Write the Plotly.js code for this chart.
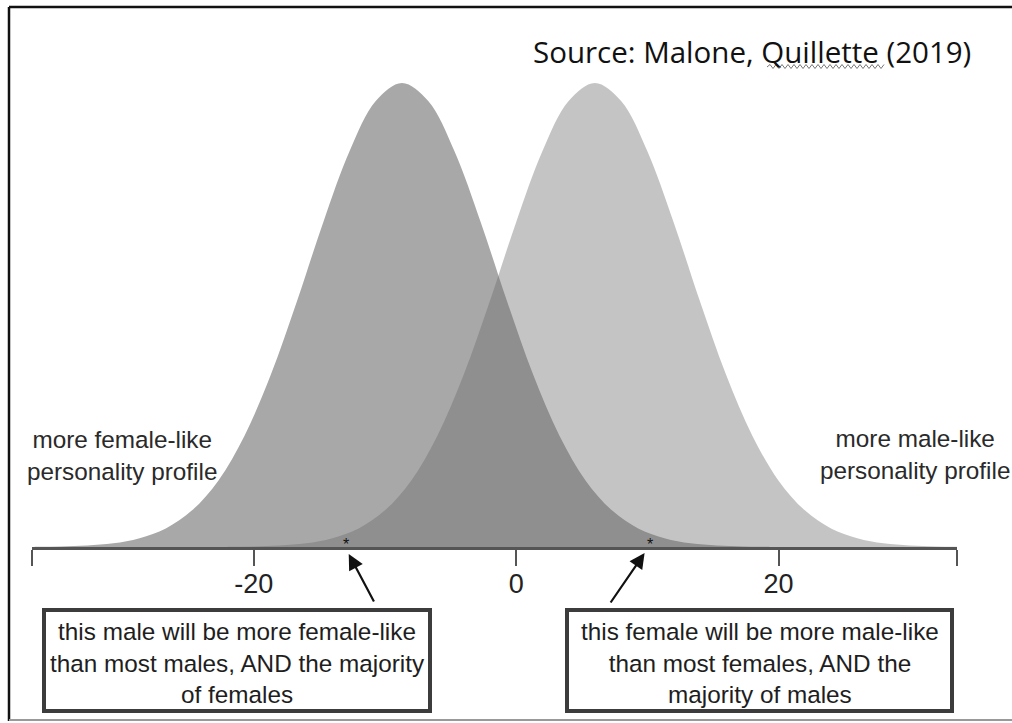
<!DOCTYPE html>
<html>
<head>
<meta charset="utf-8">
<script src="https://cdn.plot.ly/plotly-3.0.1.min.js"></script>
<style>html,body{margin:0;padding:0;background:#fff;}#chart{width:1012px;height:723px;}</style>
</head>
<body>
<div id="chart"></div>
<script>
// ---- data ----
const femaleX = [-36.7,-34.7,-32.7,-30.7,-28.7,-26.7,-24.7,-22.7,-20.7,-18.7,-16.7,-14.7,-12.7,-10.7,-8.7,-6.7,-4.7,-2.7,-0.7,1.3,3.3,5.3,7.3,9.3,11.3,13.3,15.3,17.3,19.3];
const femaleY = [0.04,0.12,0.33,0.8,1.9,4.0,7.9,14.3,24.0,37.1,53.0,70.0,85.3,96.1,100,96.1,85.3,70.0,53.0,37.1,24.0,14.3,7.9,4.0,1.9,0.8,0.33,0.12,0.04];
const maleX = [-22,-20,-18,-16,-14,-12,-10,-8,-6,-4,-2,0,2,4,6,8,10,12,14,16,18,20,22,24,26,28,30,32,34];
const maleY = [0.04,0.12,0.33,0.8,1.9,4.0,7.9,14.3,24.0,37.1,53.0,70.0,85.3,96.1,100,96.1,85.3,70.0,53.0,37.1,24.0,14.3,7.9,4.0,1.9,0.8,0.33,0.12,0.04];
const axisRange = [-36.9, 33.6];
const tickValues = [-36.9, -20, 0, 20, 33.6];
const tickLabels = ['', '-20', '0', '20', ''];
const markedX = [-13.0, 10.2];          // the two marked individuals (*)
const arrowTipX = [-12.76, 9.79];
const sourceText = 'Source: Malone, Quillette (2019)';
const leftLabel = 'more female-like<br>personality profile';
const rightLabel = 'more male-like<br>personality profile';
const boxTexts = [
  'this male will be more female-like<br>than most males, AND the majority<br>of females',
  'this female will be more male-like<br>than most females, AND the<br>majority of males'
];

// ---- layout helpers (pixel -> paper) ----
const W = 1012, H = 723;
const px = v => v / W;
const py = v => (H - v) / H;

const traces = [
  {x: femaleX, y: femaleY, type: 'scatter', mode: 'lines', line: {width: 0, shape: 'spline', color: 'rgba(0,0,0,0)'},
   fill: 'tozeroy', fillcolor: 'rgb(168,168,168)', hoverinfo: 'skip', showlegend: false},
  {x: maleX, y: maleY, type: 'scatter', mode: 'lines', line: {width: 0, shape: 'spline', color: 'rgba(0,0,0,0)'},
   fill: 'tozeroy', fillcolor: 'rgba(104,104,104,0.39)', hoverinfo: 'skip', showlegend: false}
];

// wavy underline under "Quillette"
let wave = 'M ' + px(767) + ',' + py(67);
for (let xx = 767, i = 0; xx < 883; xx += 3, i++) {
  wave += ' L ' + px(xx + 3) + ',' + py(i % 2 === 0 ? 64.5 : 68.5);
}

const shapes = [
  // outer frame
  {type: 'line', xref: 'paper', yref: 'paper', x0: px(9), x1: px(9), y0: py(7), y1: py(721), line: {color: '#111', width: 2.5}},
  {type: 'line', xref: 'paper', yref: 'paper', x0: px(9), x1: px(1012), y0: py(7), y1: py(7), line: {color: '#111', width: 2.5}},
  {type: 'line', xref: 'paper', yref: 'paper', x0: px(9), x1: px(1012), y0: py(720), y1: py(720), line: {color: '#999', width: 2}},
  // text boxes
  {type: 'rect', xref: 'paper', yref: 'paper', x0: px(44), x1: px(430), y0: py(610), y1: py(711), line: {color: '#3c3c3c', width: 4}, fillcolor: 'rgba(0,0,0,0)'},
  {type: 'rect', xref: 'paper', yref: 'paper', x0: px(567), x1: px(952), y0: py(610), y1: py(711), line: {color: '#3c3c3c', width: 4}, fillcolor: 'rgba(0,0,0,0)'},
  {type: 'path', xref: 'paper', yref: 'paper', path: wave, line: {color: '#777', width: 1}}
];

const labelFont = 'Liberation Sans, Arial, sans-serif';
const annotations = [
  {xref: 'paper', yref: 'paper', x: px(752), y: py(52), text: sourceText, showarrow: false,
   font: {family: 'Open Sans, sans-serif', size: 29.5, color: '#111'}, xanchor: 'center', yanchor: 'middle'},
  {xref: 'paper', yref: 'paper', x: px(122), y: py(455), text: leftLabel, showarrow: false,
   font: {family: labelFont, size: 24.3, color: '#2a2a2a'}, xanchor: 'center', yanchor: 'middle'},
  {xref: 'paper', yref: 'paper', x: px(915), y: py(454), text: rightLabel, showarrow: false,
   font: {family: labelFont, size: 24.3, color: '#2a2a2a'}, xanchor: 'center', yanchor: 'middle'},
  {xref: 'paper', yref: 'paper', x: px(237), y: py(663), text: boxTexts[0], showarrow: false,
   font: {family: labelFont, size: 24.3, color: '#1e1e1e'}, xanchor: 'center', yanchor: 'middle'},
  {xref: 'paper', yref: 'paper', x: px(759.5), y: py(663), text: boxTexts[1], showarrow: false,
   font: {family: labelFont, size: 24.3, color: '#1e1e1e'}, xanchor: 'center', yanchor: 'middle'},
  // asterisks marking the individuals
  ...markedX.map(v => ({xref: 'x', yref: 'paper', x: v, y: py(544), text: '*', showarrow: false,
   font: {family: labelFont, size: 16, color: '#111'}, xanchor: 'center', yanchor: 'middle'})),
  // arrows
  {xref: 'x', yref: 'paper', x: arrowTipX[0], y: py(554), ax: 26, ay: 49, text: '', showarrow: true,
   arrowhead: 2, arrowsize: 1.4, arrowwidth: 2.2, arrowcolor: '#111'},
  {xref: 'x', yref: 'paper', x: arrowTipX[1], y: py(553), ax: -35, ay: 51, text: '', showarrow: true,
   arrowhead: 2, arrowsize: 1.4, arrowwidth: 2.2, arrowcolor: '#111'}
];

const layout = {
  width: W, height: H,
  margin: {l: 0, r: 0, t: 0, b: 0},
  paper_bgcolor: '#fff', plot_bgcolor: '#fff',
  showlegend: false,
  xaxis: {
    domain: [px(32), px(957)], range: axisRange, showgrid: false, zeroline: false,
    showline: true, linecolor: '#555', linewidth: 2.5,
    ticks: 'outside', ticklen: 16, tickwidth: 2, tickcolor: '#555',
    tickmode: 'array', tickvals: tickValues, ticktext: tickLabels,
    ticklabelstandoff: -5,
    tickfont: {family: labelFont, size: 27, color: '#222'},
    fixedrange: true
  },
  yaxis: {
    domain: [py(547), py(83)], range: [0, 100], visible: false, fixedrange: true
  },
  shapes: shapes,
  annotations: annotations
};

Plotly.newPlot('chart', traces, layout, {displayModeBar: false, staticPlot: true});
</script>
</body>
</html>
